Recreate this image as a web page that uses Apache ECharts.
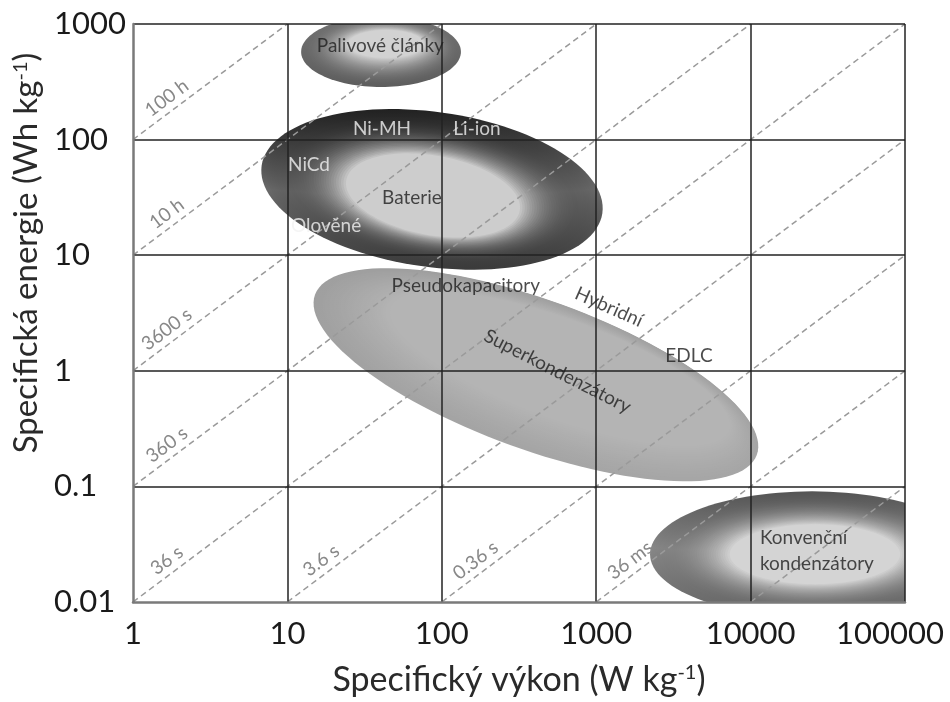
<!DOCTYPE html>
<html>
<head>
<meta charset="utf-8">
<script src="https://cdn.jsdelivr.net/npm/echarts@6/dist/echarts.min.js"></script>
<style>
  html, body { margin: 0; padding: 0; background: #ffffff; }
  #chart { width: 950px; height: 702px; }
</style>
</head>
<body>
<div id="chart"></div>
<script>
// Axis decades
const powerTicks = [1, 10, 100, 1000, 10000, 100000];      // W/kg
const energyTicks = [0.01, 0.1, 1, 10, 100, 1000];         // Wh/kg

// Constant discharge-time guides (energy / power, in hours)
const dischargeHours = [100, 10, 1, 0.1, 0.01, 0.001, 0.0001, 0.00001, 0.000001];
const dischargeLabels = ['100 h', '10 h', '3600 s', '360 s', '36 s', '3.6 s', '0.36 s', '36 ms', ''];

// Technology regions. Each ring: [centre, end of first semi-axis, end of second semi-axis], points as [W/kg, Wh/kg]
const supercapOuter = [[407, 0.924], [10965, 0.187], [598, 3.74]];
const supercapCore = [[583, 1.04], [7260, 0.306], [752, 2.64]];
const batteryOuter = [[86.4, 37.1], [1096, 23.1], [101.6, 171]];
const batteryCore = [[87.7, 32.9], [319.6, 24.3], [97.2, 71.9]];
const fuelCellOuter = [[40.4, 575], [133, 575], [40.4, 1160]];
const fuelCellCore = [[43.5, 672], [76.7, 672], [43.5, 887]];
const capacitorOuter = [[25000, 0.0259], [280000, 0.0259], [25000, 0.0906]];
const capacitorCore = [[26100, 0.0259], [92900, 0.0259], [26100, 0.047]];

// Captions: [W/kg, Wh/kg, text]
const captions = [
  [40, 650, 'Palivové články'],
  [41, 124, 'Ni-MH'],
  [169, 124, 'Li-ion'],
  [13.8, 60.8, 'NiCd'],
  [64, 31.6, 'Baterie'],
  [17.8, 17.8, 'Olověné'],
  [143, 5.41, 'Pseudokapacitory'],
  [1210, 3.56, 'Hybridní'],
  [561, 0.99, 'Superkondenzátory'],
  [3990, 1.35, 'EDLC'],
  [11500, 0.0356, 'Konvenční'],
  [11500, 0.0213, 'kondenzátory']
];

// ---------- styling ----------
const FONT = 'Lato, "Open Sans", sans-serif';
// bands: vertical light/dark profile of each ring, [offset, relative shift]
const regionShades = [
  { edge: '#a2a2a2', core: '#b4b4b4', amp: 0.03, ease: 1.2, bands: [[0, -0.5], [1, 0.5]] },                // supercapacitors
  { edge: '#404040', core: '#cdcdcd', amp: 0.20, ease: 3.0, bands: [[0, -0.6], [0.5, 0.8], [1, -0.1]] },   // batteries
  { edge: '#6a6a6a', core: '#d2d2d2', amp: 0.10, ease: 2.0, bands: [[0, 0.3], [1, -0.5]] },                // fuel cells
  { edge: '#686868', core: '#d4d4d4', amp: 0.15, ease: 2.4, bands: [[0, -0.5], [0.45, 0.8], [1, -0.1]] }   // capacitors
];
const whiteCaptions = ['Ni-MH', 'Li-ion', 'NiCd', 'Olověné'];
const captionRotate = { 'Hybridní': -24, 'Superkondenzátory': -27 };
const leftCaptions = ['Konvenční', 'kondenzátory'];

function hexToRgb(h) {
  const n = parseInt(h.slice(1), 16);
  return [(n >> 16) & 255, (n >> 8) & 255, n & 255];
}
function rgbStr(c) {
  return 'rgb(' + c.map(v => Math.max(0, Math.min(255, Math.round(v)))).join(',') + ')';
}
function mixColor(a, b, t) {
  const ca = hexToRgb(a), cb = hexToRgb(b);
  return ca.map((v, i) => v + (cb[i] - v) * t);
}

const regionRings = [
  [supercapOuter, supercapCore],
  [batteryOuter, batteryCore],
  [fuelCellOuter, fuelCellCore],
  [capacitorOuter, capacitorCore]
];
const regionData = regionRings.map(([o, c]) => [].concat(...o, ...c));

function ringFrom(vals, off) {
  const L = Math.log10;
  const cx = L(vals[off]), cy = L(vals[off + 1]);
  return {
    c: [cx, cy],
    u: [L(vals[off + 2]) - cx, L(vals[off + 3]) - cy],
    v: [L(vals[off + 4]) - cx, L(vals[off + 5]) - cy]
  };
}

function renderRegion(params, api) {
  const vals = [];
  for (let i = 0; i < 12; i++) vals.push(api.value(i));
  const outer = ringFrom(vals, 0), core = ringFrom(vals, 6);
  const sh = regionShades[params.dataIndex];
  const layers = 34, steps = 120;
  const children = [];
  const lerp = (a, b, t) => a + (b - a) * t;
  for (let i = 0; i <= layers; i++) {
    const t = i / layers;
    const c = [lerp(outer.c[0], core.c[0], t), lerp(outer.c[1], core.c[1], t)];
    const u = [lerp(outer.u[0], core.u[0], t), lerp(outer.u[1], core.u[1], t)];
    const v = [lerp(outer.v[0], core.v[0], t), lerp(outer.v[1], core.v[1], t)];
    const pts = [];
    for (let k = 0; k < steps; k++) {
      const f = (2 * Math.PI * k) / steps;
      const lx = c[0] + u[0] * Math.cos(f) + v[0] * Math.sin(f);
      const ly = c[1] + u[1] * Math.cos(f) + v[1] * Math.sin(f);
      pts.push(api.coord([Math.pow(10, lx), Math.pow(10, ly)]));
    }
    const base = mixColor(sh.edge, sh.core, Math.pow(t, sh.ease));
    const d = sh.amp * 255 * (1 - t);
    children.push({
      type: 'polygon',
      silent: true,
      shape: { points: pts },
      style: {
        fill: {
          type: 'linear', x: 0, y: 0, x2: 0, y2: 1,
          colorStops: sh.bands.map(([o, k]) => ({ offset: o, color: rgbStr(base.map(x => x + k * d)) }))
        }
      }
    });
  }
  const cs = params.coordSys;
  return {
    type: 'group',
    children: children,
    clipPath: { type: 'rect', shape: { x: cs.x, y: cs.y, width: cs.width, height: cs.height } }
  };
}

// Guide lines span the plotted power/energy window
const pMin = powerTicks[0], pMax = powerTicks[powerTicks.length - 1];
const eMin = energyTicks[0], eMax = energyTicks[energyTicks.length - 1];
const guideData = dischargeHours.map((h, i) => {
  const p0 = Math.max(pMin, eMin / h), p1 = Math.min(pMax, eMax / h);
  return [p0, p0 * h, p1, p1 * h, i];
});

function renderGuide(params, api) {
  const a = api.coord([api.value(0), api.value(1)]);
  const b = api.coord([api.value(2), api.value(3)]);
  const text = dischargeLabels[api.value(4)];
  const dx = b[0] - a[0], dy = b[1] - a[1];
  const len = Math.hypot(dx, dy);
  const ux = dx / len, uy = dy / len;
  const nx = uy, ny = -ux;
  const s = 52, off = 13;
  const children = [{
    type: 'line',
    silent: true,
    shape: { x1: a[0], y1: a[1], x2: b[0], y2: b[1] },
    style: { stroke: '#9a9a9a', lineWidth: 1.5, lineDash: [6, 4] }
  }];
  if (text) {
    children.push({
      type: 'text',
      silent: true,
      x: a[0] + ux * s + nx * off,
      y: a[1] + uy * s + ny * off,
      rotation: Math.atan2(-dy, dx),
      style: {
        text: text, fill: '#888888', fontSize: 19, fontFamily: FONT,
        align: 'center', verticalAlign: 'middle'
      }
    });
  }
  return { type: 'group', children: children };
}

const fmt = v => String(+(+v).toPrecision(6));

const chart = echarts.init(document.getElementById('chart'));
chart.setOption({
  animation: false,
  backgroundColor: '#ffffff',
  grid: { left: 133, right: 45, top: 24, bottom: 98, containLabel: false },
  xAxis: {
    type: 'log', logBase: 10, min: pMin, max: pMax, splitNumber: 5, z: 5,
    axisLine: { show: true, onZero: false, lineStyle: { color: '#7a7a7a', width: 2.5 } },
    axisTick: { show: false },
    splitLine: { show: true, showMinLine: false, lineStyle: { color: '#222222', width: 1.5 } },
    axisLabel: {
      interval: 0, margin: 16, fontFamily: FONT, fontSize: 31, color: '#1a1a1a',
      formatter: v => (v >= pMax ? '{edge|' + fmt(v) + '}' : fmt(v)),
      rich: { edge: { fontFamily: FONT, fontSize: 31, color: '#1a1a1a', padding: [0, 30, 0, 0] } }
    },
    name: '{a|Specifický výkon (W kg}{s|-1}{a|)}',
    nameLocation: 'middle', nameGap: 61,
    nameTextStyle: {
      rich: {
        a: { fontFamily: FONT, fontSize: 34, color: '#2a2a2a' },
        s: { fontFamily: FONT, fontSize: 20, color: '#2a2a2a', verticalAlign: 'top' }
      }
    }
  },
  yAxis: {
    type: 'log', logBase: 10, min: eMin, max: eMax, splitNumber: 5, z: 5,
    axisLine: { show: true, onZero: false, lineStyle: { color: '#7a7a7a', width: 2.5 } },
    axisTick: { show: false },
    splitLine: { show: true, showMinLine: false, lineStyle: { color: '#222222', width: 1.5 } },
    axisLabel: {
      interval: 0, margin: 79, align: 'left', fontFamily: FONT, fontSize: 31, color: '#1a1a1a',
      formatter: fmt
    },
    name: '{a|Specifická energie (Wh kg}{s|-1}{a|)}',
    nameLocation: 'middle', nameGap: 84, nameRotate: 90,
    nameTextStyle: {
      padding: [0, 0, 0, 120],
      rich: {
        a: { fontFamily: FONT, fontSize: 33, color: '#2a2a2a' },
        s: { fontFamily: FONT, fontSize: 20, color: '#2a2a2a', verticalAlign: 'top' }
      }
    }
  },
  series: [
    {
      type: 'custom', name: 'regions', z: 1, silent: true,
      renderItem: renderRegion,
      encode: { x: 0, y: 1 },
      data: regionData
    },
    {
      type: 'custom', name: 'discharge time', z: 2, silent: true,
      renderItem: renderGuide,
      encode: { x: 0, y: 1 },
      data: guideData
    },
    {
      type: 'scatter', name: 'captions', z: 8, silent: true,
      symbolSize: 0,
      data: captions.map(c => {
        const white = whiteCaptions.includes(c[2]);
        const left = leftCaptions.includes(c[2]);
        return {
          value: [c[0], c[1]],
          name: c[2],
          label: {
            show: true,
            formatter: '{b}',
            position: left ? 'right' : 'inside',
            distance: 0,
            rotate: captionRotate[c[2]] || 0,
            fontFamily: FONT, fontSize: 19,
            color: white ? '#f2f2f2' : '#1e1e1e'
          }
        };
      })
    }
  ]
});
</script>
</body>
</html>
